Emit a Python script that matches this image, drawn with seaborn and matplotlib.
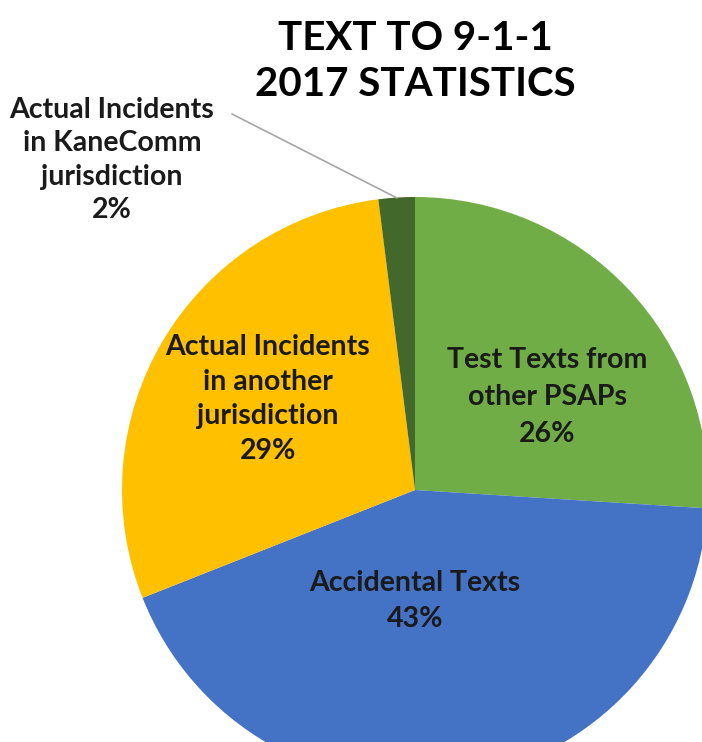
import matplotlib
matplotlib.use("Agg")
import matplotlib.pyplot as plt
import seaborn as sns

categories = ["Test Texts from\nother PSAPs", "Accidental Texts",
              "Actual Incidents\nin another\njurisdiction",
              "Actual Incidents\nin KaneComm\njurisdiction"]
values = [26, 43, 29, 2]
colors = ["#70AD47", "#4472C4", "#FFC000", "#43682B"]

sns.set_theme(style="white")
plt.rcParams['font.family'] = ['Lato', 'DejaVu Sans']

W, H = 702, 742
cx, cy, R = 415, 490, 293
fig = plt.figure(figsize=(W / 100, H / 100), dpi=100)
ax = fig.add_axes([0, 0, 1, 1])

wedges, _ = ax.pie(values, colors=colors, startangle=90, counterclock=False,
                   radius=1.0, center=(0, 0),
                   wedgeprops=dict(linewidth=0))
ax.set_aspect('auto')
ax.set_xlim(-cx / R, (W - cx) / R)
ax.set_ylim(-(H - cy) / R, cy / R)
ax.axis('off')


def px(x, y):
    return ((x - cx) / R, (cy - y) / R)


lab_kw = dict(ha="center", va="center", fontsize=20.5, fontweight="bold",
              color="#1a1a1a")
txt = [f"{categories[0]}\n{values[0]}%", f"{categories[1]}\n{values[1]}%",
       f"{categories[2]}\n{values[2]}%", f"{categories[3]}\n{values[3]}%"]
ax.text(*px(547, 397), txt[0], linespacing=1.5, **lab_kw)
ax.text(*px(415, 601), txt[1], linespacing=1.5, **lab_kw)
ax.text(*px(268, 399), txt[2], linespacing=1.4, **lab_kw)
ax.text(*px(112, 160), txt[3], linespacing=1.35, **lab_kw)

# leader line for the small slice
x0, y0 = px(232, 114)
x1, y1 = px(397, 198)
ax.plot([x0, x1], [y0, y1], color="#A6A6A6", linewidth=1.2)

fig.text(415 / W, 1 - 62 / H, "TEXT TO 9-1-1\n2017 STATISTICS", ha="center",
         va="center", fontsize=29, fontweight="bold", color="black",
         linespacing=1.3)

fig.savefig("out.png", dpi=100)
